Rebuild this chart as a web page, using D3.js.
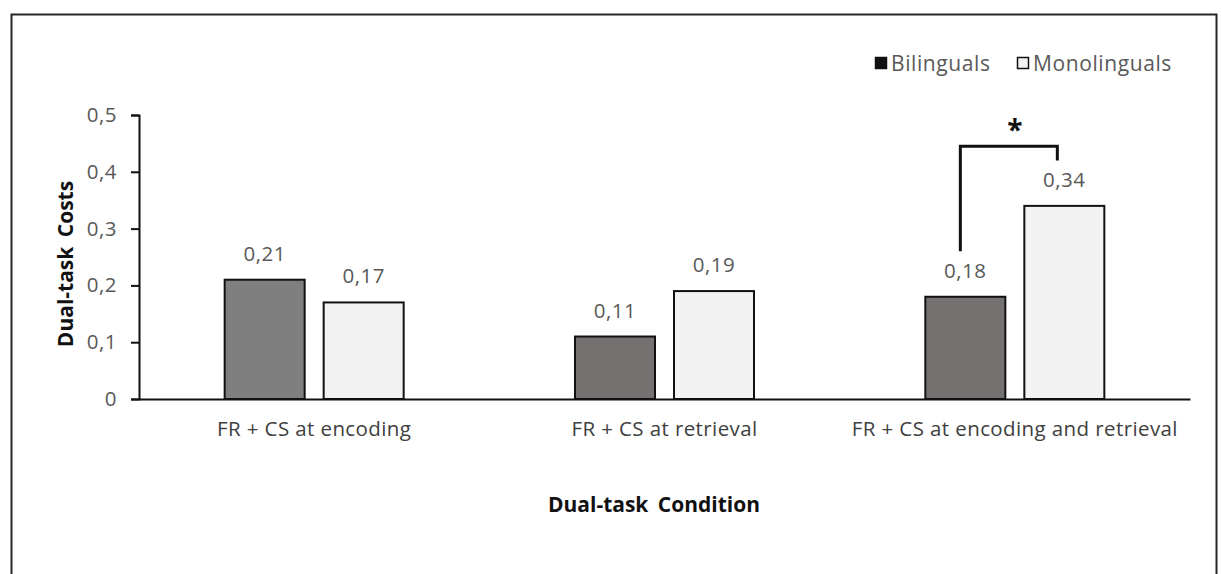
<!DOCTYPE html>
<html>
<head>
<meta charset="utf-8">
<script src="https://cdn.jsdelivr.net/npm/d3@7"></script>
<style>
  body { margin: 0; background: #fff; }
  svg text { font-family: "Open Sans", "DejaVu Sans", sans-serif; }
</style>
</head>
<body>
<div id="chart"></div>
<script>
(function () {
  // Data

  const categories = ["FR + CS at encoding", "FR + CS at retrieval", "FR + CS at encoding and retrieval"];
  const groups = ["Bilinguals", "Monolinguals"];
  const bilinguals = [0.21, 0.11, 0.18];
  const monolinguals = [0.17, 0.19, 0.34];
  const yTicks = [0, 0.1, 0.2, 0.3, 0.4, 0.5];

  // Config

  const width = 1221;
  const height = 574;
  const margin = { top: 115, bottom: 175, left: 139, right: 31 };

  const bilingualFill = ["#7f7f7f", "#767171", "#767171"];
  const monolingualFill = "#f2f2f2";
  const textGray = "#595959";
  const comma = d3.formatLocale({ decimal: ",", thousands: ".", grouping: [3], currency: ["", ""] });
  const fmt = v => v === 0 ? "0" : comma.format(".1f")(v);
  const fmt2 = v => comma.format(".2f")(v);

  const svg = d3.select("#chart")
    .append("svg")
    .attr("width", width)
    .attr("height", height);

  // frame
  svg.append("rect")
    .attr("x", 11.5)
    .attr("y", 14.5)
    .attr("width", 1205)
    .attr("height", 600)
    .attr("fill", "none")
    .attr("stroke", "#262626")
    .attr("stroke-width", 2);

  // Scales

  const xScale = d3.scaleBand()
    .domain(categories)
    .range([margin.left, width - margin.right]);

  const yScale = d3.scaleLinear()
    .domain([0, 0.5])
    .range([height - margin.bottom, margin.top]);

  const barWidth = 80;
  const barGap = 19;

  const rows = [];
  categories.forEach((c, i) => {
    rows.push({ cat: c, group: groups[0], value: bilinguals[i], fill: bilingualFill[i], offset: -barGap / 2 - barWidth });
    rows.push({ cat: c, group: groups[1], value: monolinguals[i], fill: monolingualFill, offset: barGap / 2 });
  });

  const center = c => xScale(c) + xScale.bandwidth() / 2;

  // Bars

  svg.selectAll("rect.bar")
    .data(rows)
    .join("rect")
    .attr("class", "bar")
    .attr("x", d => center(d.cat) + d.offset)
    .attr("y", d => yScale(d.value))
    .attr("width", barWidth)
    .attr("height", d => yScale(0) - yScale(d.value))
    .attr("fill", d => d.fill)
    .attr("stroke", "#111")
    .attr("stroke-width", 2);

  svg.selectAll("text.val")
    .data(rows)
    .join("text")
    .attr("class", "val")
    .attr("x", d => center(d.cat) + d.offset + barWidth / 2)
    .attr("y", d => yScale(d.value) - 19)
    .attr("text-anchor", "middle")
    .attr("font-size", 20.5)
    .attr("letter-spacing", 0.5)
    .attr("fill", textGray)
    .text(d => fmt2(d.value));

  // Axes

  const yAxis = d3.axisLeft(yScale)
    .tickValues(yTicks)
    .tickFormat(fmt)
    .tickSize(8)
    .tickPadding(14);

  const gy = svg.append("g")
    .attr("transform", `translate(${margin.left}, 0)`)
    .call(yAxis);
  gy.select(".domain").attr("stroke", "#111").attr("stroke-width", 2);
  gy.selectAll(".tick line").attr("stroke", "#111").attr("stroke-width", 2);
  gy.selectAll(".tick text")
    .attr("font-size", 20.5)
    .attr("letter-spacing", 0.5)
    .attr("fill", textGray)
    .style("font-family", "'Open Sans', sans-serif");

  const xAxis = d3.axisBottom(xScale).tickSize(0).tickPadding(22);
  const gx = svg.append("g")
    .attr("transform", `translate(0, ${yScale(0)})`)
    .call(xAxis);
  gx.select(".domain").attr("stroke", "#111").attr("stroke-width", 2);
  gx.selectAll(".tick text")
    .attr("font-size", 20.5)
    .attr("letter-spacing", 0.4)
    .attr("fill", "#404040")
    .style("font-family", "'Open Sans', sans-serif");

  // Axis titles

  svg.append("text")
    .attr("x", 654)
    .attr("y", 512)
    .attr("text-anchor", "middle")
    .attr("font-size", 21)
    .attr("font-weight", "bold")
    .attr("fill", "#111")
    .attr("word-spacing", 4)
    .text("Dual-task Condition");

  svg.append("text")
    .attr("transform", `translate(73, ${(yScale(0) + yScale(0.5)) / 2 + 7}) rotate(-90)`)
    .attr("text-anchor", "middle")
    .attr("font-size", 21)
    .attr("font-weight", "bold")
    .attr("fill", "#111")
    .attr("word-spacing", 4)
    .text("Dual-task Costs");

  // Significance bracket

  const last = categories[2];
  const bx1 = center(last) + rows[4].offset + barWidth / 2 - 5;
  const bx2 = center(last) + rows[5].offset + barWidth / 2 - 7;
  const bTop = yScale(0.445);
  svg.append("path")
    .attr("d", `M${bx1},${yScale(0.26)} V${bTop} H${bx2} V${yScale(0.42)}`)
    .attr("fill", "none")
    .attr("stroke", "#111")
    .attr("stroke-width", 3);

  svg.append("text")
    .attr("x", (bx1 + bx2) / 2 + 6)
    .attr("y", bTop - 6)
    .attr("text-anchor", "middle")
    .attr("font-size", 28)
    .attr("font-weight", "bold")
    .attr("fill", "#111")
    .text("*");

  // Legend

  const legend = svg.append("g").attr("transform", "translate(875, 57)");
  const items = [
    { label: groups[0], fill: "#111", x: 0 },
    { label: groups[1], fill: monolingualFill, x: 142 }
  ];
  const li = legend.selectAll("g")
    .data(items)
    .join("g")
    .attr("transform", d => `translate(${d.x}, 0)`);
  li.append("rect")
    .attr("x", 0.5)
    .attr("y", 0.5)
    .attr("width", 11)
    .attr("height", 11)
    .attr("fill", d => d.fill)
    .attr("stroke", "#111")
    .attr("stroke-width", 1.5);
  li.append("text")
    .attr("x", 16)
    .attr("y", 13.5)
    .attr("font-size", 21)
    .attr("letter-spacing", 0.6)
    .attr("fill", textGray)
    .text(d => d.label);
})();
</script>
</body>
</html>
